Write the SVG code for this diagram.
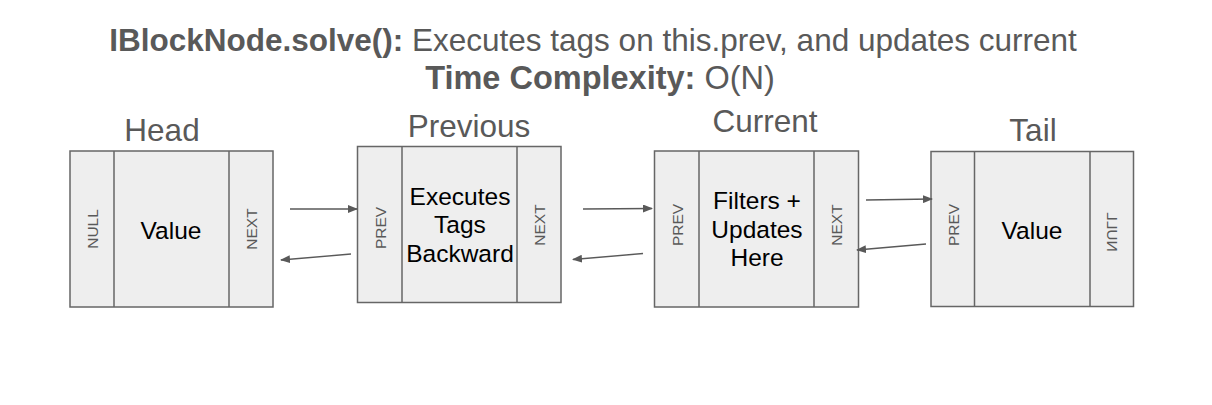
<svg xmlns="http://www.w3.org/2000/svg" width="1212" height="405" viewBox="0 0 1212 405">
<defs>
<marker id="ah" markerWidth="10" markerHeight="8" refX="9" refY="4" orient="auto" markerUnits="userSpaceOnUse">
<path d="M0,0 L10,4 L0,8 Z" fill="#595959"/>
</marker>
</defs>
<style>
text{font-family:"Liberation Sans",Arial,sans-serif}
.title{fill:#595959;text-anchor:middle}
.b{font-weight:bold}
.lbl{font-size:31.5px;fill:#595959;text-anchor:middle}
.box{fill:#eeeeee;stroke:#666666;stroke-width:1.5}
.inner{font-size:24.5px;fill:#000000;text-anchor:middle}
.slot{font-size:15.5px;fill:#595959;text-anchor:middle;dominant-baseline:central}
.conn{stroke:#595959;stroke-width:1.3;fill:none;marker-end:url(#ah)}
</style>
<rect width="1212" height="405" fill="#ffffff"/>
<g id="title">
<text class="title" x="593" y="51" font-size="31.5"><tspan class="b">IBlockNode.solve():</tspan> Executes tags on this.prev, and updates current</text>
<text class="title" x="600" y="89" font-size="32.5"><tspan class="b">Time Complexity:</tspan> O(N)</text>
</g>
<g id="head">
<text class="lbl" x="162" y="141">Head</text>
<rect class="box" x="70" y="151" width="203" height="156"/>
<line class="box" x1="114" y1="151" x2="114" y2="307"/>
<line class="box" x1="229" y1="151" x2="229" y2="307"/>
<text class="inner" x="171" y="239">Value</text>
<text class="slot" transform="translate(92,229) rotate(-90)">NULL</text>
<text class="slot" transform="translate(251,229) rotate(-90)">NEXT</text>
</g>
<g id="previous">
<text class="lbl" x="469" y="137">Previous</text>
<rect class="box" x="357.5" y="146.5" width="203.5" height="156"/>
<line class="box" x1="402" y1="146.5" x2="402" y2="302.5"/>
<line class="box" x1="517" y1="146.5" x2="517" y2="302.5"/>
<text class="inner" x="460" y="205">Executes</text>
<text class="inner" x="460" y="233">Tags</text>
<text class="inner" x="460" y="262">Backward</text>
<text class="slot" transform="translate(380,228) rotate(-90)">PREV</text>
<text class="slot" transform="translate(539,225) rotate(-90)">NEXT</text>
</g>
<g id="current">
<text class="lbl" x="765" y="132">Current</text>
<rect class="box" x="654.5" y="151" width="204" height="156"/>
<line class="box" x1="699" y1="151" x2="699" y2="307"/>
<line class="box" x1="814" y1="151" x2="814" y2="307"/>
<text class="inner" x="757" y="209">Filters +</text>
<text class="inner" x="757" y="238">Updates</text>
<text class="inner" x="757" y="266">Here</text>
<text class="slot" transform="translate(677,225) rotate(-90)">PREV</text>
<text class="slot" transform="translate(836,225) rotate(-90)">NEXT</text>
</g>
<g id="tail">
<text class="lbl" x="1033" y="141">Tail</text>
<rect class="box" x="931" y="151.5" width="202.5" height="155"/>
<line class="box" x1="974.5" y1="151.5" x2="974.5" y2="306.5"/>
<line class="box" x1="1090" y1="151.5" x2="1090" y2="306.5"/>
<text class="inner" x="1032" y="239">Value</text>
<text class="slot" transform="translate(953,225) rotate(-90)">PREV</text>
<text class="slot" transform="translate(1112,232) scale(-1,1) rotate(-90)">NULL</text>
</g>
<g id="connectors">
<line class="conn" x1="290" y1="209" x2="357" y2="209"/>
<line class="conn" x1="351" y1="254" x2="281" y2="260"/>
<line class="conn" x1="583" y1="209" x2="652" y2="208.5"/>
<line class="conn" x1="643" y1="253.5" x2="573" y2="259.5"/>
<line class="conn" x1="866" y1="200" x2="932" y2="199"/>
<line class="conn" x1="926" y1="244" x2="857" y2="250"/>
</g>
</svg>
